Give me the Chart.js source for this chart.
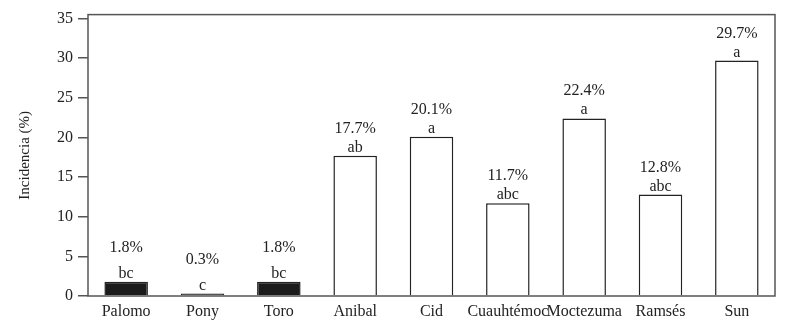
<!DOCTYPE html>
<html>
<head>
<meta charset="utf-8">
<script src="https://cdn.jsdelivr.net/npm/chart.js@4"></script>
<style>
  body { margin: 0; background: #fff; }
  #wrap { width: 791px; height: 329px; }
</style>
</head>
<body>
<div id="wrap"><canvas id="chart"></canvas></div>
<script>
const varieties = ['Palomo', 'Pony', 'Toro', 'Anibal', 'Cid', 'Cuauhtémoc', 'Moctezuma', 'Ramsés', 'Sun'];
const incidence = [1.8, 0.3, 1.8, 17.7, 20.1, 11.7, 22.4, 12.8, 29.7];
const groups = ['bc', 'c', 'bc', 'ab', 'a', 'abc', 'a', 'abc', 'a'];
const yTicks = [0, 5, 10, 15, 20, 25, 30, 35];

const serif = '"Liberation Serif", "Times New Roman", serif';

// black bars for the first three, open bars for the rest
const fills = incidence.map((v, i) => i < 3 ? '#1b1b1b' : '#ffffff');

const labelPlugin = {
    id: 'barLabels',
    afterDatasetsDraw(chart) {
        const ctx = chart.ctx;
        const meta = chart.getDatasetMeta(0);
        ctx.save();
        ctx.fillStyle = '#222';
        ctx.font = '16px ' + serif;
        ctx.textAlign = 'center';
        ctx.textBaseline = 'alphabetic';
        meta.data.forEach((bar, i) => {
            const small = incidence[i] < 5;
            ctx.fillText(groups[i], bar.x, bar.y - 4);
            ctx.fillText(incidence[i].toFixed(1) + '%', bar.x, bar.y - (small ? 30 : 23));
        });
        ctx.restore();
    }
};

const framePlugin = {
    id: 'frame',
    afterDraw(chart) {
        const a = chart.chartArea;
        const ctx = chart.ctx;
        ctx.save();
        ctx.strokeStyle = '#555';
        ctx.lineWidth = 1.5;
        ctx.strokeRect(a.left, a.top, a.right - a.left, a.bottom - a.top);
        ctx.restore();
    }
};

new Chart(document.getElementById('chart'), {
    type: 'bar',
    data: {
        labels: varieties,
        datasets: [{
            data: incidence,
            backgroundColor: fills,
            borderColor: '#222',
            borderWidth: 1.5,
            categoryPercentage: 1,
            barPercentage: 0.57
        }]
    },
    options: {
        responsive: true,
        maintainAspectRatio: false,
        animation: false,
        layout: { padding: { top: 11, right: 16, left: 0, bottom: 0 } },
        plugins: {
            legend: { display: false },
            tooltip: { enabled: false }
        },
        scales: {
            x: {
                grid: { display: false, drawTicks: false },
                border: { display: false },
                ticks: {
                    color: '#222',
                    font: { family: serif, size: 16 },
                    padding: 6,
                    autoSkip: false,
                    maxRotation: 0
                },
                afterFit(axis) { axis.height = 33; }
            },
            y: {
                min: 0,
                max: 35.5,
                afterBuildTicks(axis) {
                    axis.ticks = yTicks.map(v => ({ value: v }));
                },
                grid: {
                    display: true,
                    drawOnChartArea: false,
                    drawTicks: true,
                    tickLength: 10,
                    color: '#555',
                    lineWidth: 1.5
                },
                border: { display: false },
                ticks: {
                    color: '#222',
                    font: { family: serif, size: 16 },
                    padding: 5
                },
                title: {
                    display: true,
                    text: 'Incidencia (%)',
                    color: '#222',
                    font: { family: serif, size: 15 },
                    padding: { top: 16, bottom: 0 }
                },
                afterFit(axis) { axis.width = 88; }
            }
        }
    },
    plugins: [labelPlugin, framePlugin]
});
</script>
</body>
</html>
